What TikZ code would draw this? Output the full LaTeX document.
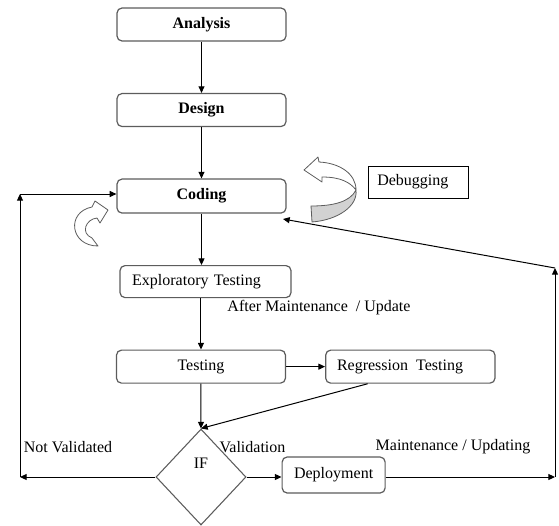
\documentclass[tikz,border=0pt]{standalone}
\usepackage{fontspec}
\setmainfont{Liberation Serif}
\usepackage{tikz}
\usetikzlibrary{arrows.meta,positioning,shapes.geometric,calc}
\definecolor{ink}{HTML}{000000}
\definecolor{edge}{HTML}{5C5C5C}
\definecolor{band}{HTML}{D2D2D2}

\begin{document}
\begin{tikzpicture}[
  x=0.75pt,y=-0.75pt,
  font=\fontsize{12pt}{14pt}\selectfont,
  node distance=38.5pt and 29.25pt,
  stage/.style={rounded corners=3.75pt,draw=edge,line width=0.9pt,fill=white,minimum width=126.75pt,minimum height=24.75pt,align=center},
  bold/.style={font=\fontsize{12pt}{14pt}\selectfont\bfseries},
  leftstage/.style={stage,inner xsep=8.5pt,text width=110pt,align=left},
  decide/.style={diamond,draw=edge,line width=0.8pt,minimum width=67.5pt,minimum height=72pt,inner sep=0pt},
  note/.style={draw=ink,line width=0.6pt,minimum width=75pt,minimum height=24pt,inner xsep=7pt,text width=61pt,align=left},
  curl/.style={draw=edge,line width=0.6pt,fill=white,line join=round},
  arr/.style={-{Triangle[length=5pt,width=4.5pt]},line width=0.75pt,draw=ink}
]
\useasboundingbox (0,0) rectangle (559,525);
\node[stage,bold] (ana) at (201.5,24.5) {Analysis};
\node[stage,bold,below=of ana] (des) {Design};
\node[stage,bold,below=of des,minimum height=25.5pt] (cod) {Coding};
\node[leftstage,below=of cod,xshift=3pt,minimum width=128.25pt,minimum height=24pt] (exp) {Exploratory Testing};
\node[stage,below=of exp,xshift=-3.4pt] (test) {Testing};
\node[leftstage,right=of test] (reg) {Regression\, Testing};
\node[decide,label={[yshift=10pt]center:IF}] (ifd) at (201,477) {};
\node[stage,right=26.25pt of ifd,yshift=1.5pt,minimum width=77.25pt,minimum height=27pt] (dep) {Deployment};
\node[note] (dbg) at (418,182) {Debugging};

% edge labels
\node (nv) at (68,447) {Not Validated};
\node (val) at (252.5,447) {Validation};
\node (mu) at (453,447) {Maintenance / Updating};
\node (am) at (319,308) {After Maintenance~~/ Update};

% loop corners
\coordinate (mr) at (555,477);
\coordinate (mt) at (555,268);
\coordinate (cin) at (283,219);
\coordinate (ml) at (20,477);
\coordinate (mlt) at (20,194);

\draw[arr] (ana) -- (des);
\draw[arr] (des) -- (cod);
\draw[arr] (cod.south) -- (cod.south |- exp.north);
\draw[arr] (test.north |- exp.south) -- (test);
\draw[arr] (test) -- (reg);
\draw[arr] (test) -- (ifd);
\draw[arr] ($(reg.south west)!0.25!(reg.south east)$) -- (ifd.north);
\draw[arr] (ifd.east) -- (dep.west |- ifd.east);
\draw[arr] (dep.east |- mr) -- (mr);
\draw[arr] (mr) -- (mt);
\draw[arr] (mt) -- (cin);
\draw[arr] (ifd.west) -- (ml);
\draw[arr] (ml) -- (mlt);
\draw[arr] (mlt) -- (mlt -| cod.west);

% debugging turn
\draw[curl] (304,170) -- (318,157) -- (319,162) .. controls (340,163) and (356,174) .. (356,190)
  .. controls (350,182) and (340,177) .. (322,177) -- (322,182) -- cycle;
\draw[curl,fill=band] (356,190) .. controls (350,202) and (333,206) .. (311,206) -- (312,222)
  .. controls (338,220) and (358,206) .. (356,190) -- cycle;
% rework turn
\draw[curl] (108,210) -- (100,223) -- (97,218) .. controls (86,219) and (80,233) .. (92,238)
  -- (98,246) .. controls (70,246) and (66,212) .. (92,207) -- (95,201) -- cycle;
\end{tikzpicture}
\end{document}
